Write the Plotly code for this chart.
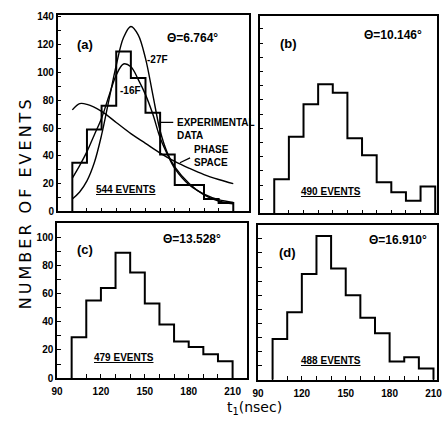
import plotly.graph_objects as go

# ---- data ----
bin_edges = [100, 110, 120, 130, 140, 150, 160, 170, 180, 190, 200, 210]
counts_a = [35, 59, 76, 115, 96, 71, 41, 19, 19, 9, 6]
counts_b = [24, 54, 77, 91, 85, 53, 41, 22, 15, 9, 19]
counts_c = [29, 55, 64, 89, 75, 53, 38, 26, 22, 17, 12]
counts_d = [29, 48, 75, 102, 79, 60, 44, 33, 13, 16, 8]

curve27_t = [100, 105, 110, 115, 120, 125, 130, 135, 140, 145, 150, 155, 160, 165, 170, 180, 190, 200, 210]
curve27_v = [9, 14, 22, 35, 55, 80, 105, 125, 133, 127, 110, 84, 58, 42, 32, 20, 12, 7.5, 5.5]
curve16_t = [100, 105, 110, 115, 120, 125, 130, 135, 140, 145, 150, 155, 160, 165, 170, 180, 190, 200, 210]
curve16_v = [24, 33, 43, 55, 67, 83, 98, 106, 104, 95, 84, 70, 53, 41, 31, 19, 12.5, 8.5, 6.5]
phase_t = [100, 105, 110, 120, 130, 140, 150, 160, 170, 180, 190, 200, 210]
phase_v = [73, 77.5, 77, 72, 64, 56, 49, 42, 36, 31, 26.5, 23, 20]

angles = ["Θ=6.764°", "Θ=10.146°", "Θ=13.528°", "Θ=16.910°"]
events = ["544 EVENTS", "490 EVENTS", "479 EVENTS", "488 EVENTS"]
panel_tags = ["(a)", "(b)", "(c)", "(d)"]
ytick_top = [0, 20, 40, 60, 80, 100, 120, 140]
ytick_bot = [0, 20, 40, 60, 80, 100]
xtick_bot = [90, 120, 150, 180, 210]

W, H = 448, 421
fig = go.Figure()

def step_xy(counts):
    xs = [bin_edges[0]] + bin_edges[:-1] + [bin_edges[-1], bin_edges[-1]]
    ys = [0] + counts + [counts[-1], 0]
    return xs, ys

panels = [
    ("a", "x", "y", counts_a),
    ("b", "x2", "y2", counts_b),
    ("c", "x3", "y3", counts_c),
    ("d", "x4", "y4", counts_d),
]
for name, xa, ya, cnt in panels:
    xs, ys = step_xy(cnt)
    fig.add_trace(go.Scatter(x=xs, y=ys, mode="lines", line=dict(color="black", width=2, shape="hv"),
                             xaxis=xa, yaxis=ya, showlegend=False, hoverinfo="skip"))

for tt, vv in [(curve27_t, curve27_v), (curve16_t, curve16_v), (phase_t, phase_v)]:
    fig.add_trace(go.Scatter(x=tt, y=vv, mode="lines", line=dict(color="black", width=1.4, shape="spline"),
                             xaxis="x", yaxis="y", showlegend=False, hoverinfo="skip"))

def px_x(a, b):
    return [a / W, b / W]

def px_y(bottom, top):
    return [(H - bottom) / H, (H - top) / H]

tickfont = dict(family="Liberation Sans, Arial", size=10, color="black", weight="bold")
common = dict(showline=True, mirror=True, linecolor="black", linewidth=1.5, showgrid=False,
              zeroline=False, ticks="inside", ticklen=4, tickwidth=1.2, tickcolor="black",
              tickfont=tickfont, fixedrange=True)
minor = dict(dtick=10, ticks="inside", ticklen=4, tickwidth=1.2, tickcolor="black", showgrid=False)

layout_axes = {
    "xaxis": dict(domain=px_x(53, 249), range=[90, 220.67], anchor="y", tickvals=list(range(90, 221, 10)),
                  showticklabels=False, **common),
    "yaxis": dict(domain=px_y(212, 11), range=[0, 141.4], anchor="x", tickvals=ytick_top,
                  minor=minor, **common),
    "xaxis2": dict(domain=px_x(260, 442), range=[90, 211.33], anchor="y2", tickvals=list(range(90, 211, 10)),
                   showticklabels=False, **common),
    "yaxis2": dict(domain=px_y(214, 12), range=[0, 139.3], anchor="x2", tickvals=list(range(0, 140, 10)),
                   showticklabels=False, **common),
    "xaxis3": dict(domain=px_x(52.3, 247), range=[90, 219.8], anchor="y3", tickvals=xtick_bot,
                   minor=minor, ticklabelstandoff=3, **common),
    "yaxis3": dict(domain=px_y(382.3, 224), range=[0, 109.9], anchor="x3", tickvals=ytick_bot,
                   minor=minor, **common),
    "xaxis4": dict(domain=px_x(258.3, 442), range=[90, 212.5], anchor="y4", tickvals=xtick_bot,
                   minor=minor, ticklabelstandoff=3, **common),
    "yaxis4": dict(domain=px_y(384, 226), range=[0, 109.7], anchor="x4", tickvals=list(range(0, 110, 10)),
                   showticklabels=False, **common),
}
fig.update_layout(**layout_axes)

ann = []
lab_font = dict(family="Liberation Sans, Arial", size=13, color="black", weight="bold")
theta_font = dict(family="Liberation Sans, Arial", size=12, color="black", weight="bold")
small_bold = dict(family="Liberation Sans, Arial", size=10, color="black", weight="bold")

tag_pos = [(109, 120), (110, 120), (109, 91), (110.5, 90)]
theta_pos = [(182, 125), (181, 125.5), (182, 99), (185.5, 99)]
ev_pos = [(136.7, 15.5), (139, 15.5), (135.5, 14.5), (139.7, 14)]
refs = [("x", "y"), ("x2", "y2"), ("x3", "y3"), ("x4", "y4")]
for i in range(4):
    xr, yr = refs[i]
    ann.append(dict(x=tag_pos[i][0], y=tag_pos[i][1], xref=xr, yref=yr, text=panel_tags[i],
                    showarrow=False, font=lab_font))
    ann.append(dict(x=theta_pos[i][0], y=theta_pos[i][1], xref=xr, yref=yr, text=angles[i],
                    showarrow=False, font=theta_font))
    ann.append(dict(x=ev_pos[i][0], y=ev_pos[i][1], xref=xr, yref=yr, text="<u>" + events[i] + "</u>",
                    showarrow=False, font=small_bold))

# curve labels in panel (a)
ann.append(dict(x=150, y=109, xref="x", yref="y", text="-27F", showarrow=False, xanchor="left", font=small_bold))
ann.append(dict(x=131.5, y=87, xref="x", yref="y", text="-16F", showarrow=False, xanchor="left", font=small_bold))
ann.append(dict(x=170, y=59, xref="x", yref="y", text="EXPERIMENTAL<br>DATA", showarrow=False,
                xanchor="left", align="left", font=small_bold))
ann.append(dict(x=160.5, y=64, xref="x", yref="y", ax=170, ay=64, axref="x", ayref="y", text="",
                showarrow=True, arrowhead=0, arrowwidth=1.3, arrowcolor="black"))
ann.append(dict(x=182, y=40, xref="x", yref="y", text="PHASE<br>SPACE", showarrow=False,
                xanchor="left", align="left", font=small_bold))
ann.append(dict(x=173.5, y=35, xref="x", yref="y", ax=181.5, ay=39, axref="x", ayref="y", text="",
                showarrow=True, arrowhead=0, arrowwidth=1.3, arrowcolor="black"))

# axis titles
ann.append(dict(x=20 / W, y=(H - 203) / H, xref="paper", yref="paper",
                text='<span style="letter-spacing:3px">NUMBER OF EVENTS</span>',
                textangle=-90, showarrow=False, xanchor="center", yanchor="middle",
                font=dict(family="DejaVu Sans", size=16, color="black")))
ann.append(dict(x=255 / W, y=(H - 413) / H, xref="paper", yref="paper", text="t<sub>1</sub>(nsec)",
                showarrow=False, xanchor="center", yanchor="middle",
                font=dict(family="DejaVu Sans", size=14, color="black")))

fig.update_layout(annotations=ann, width=W, height=H, margin=dict(l=0, r=0, t=0, b=0),
                  paper_bgcolor="white", plot_bgcolor="white")

fig.write_html("out.html")
